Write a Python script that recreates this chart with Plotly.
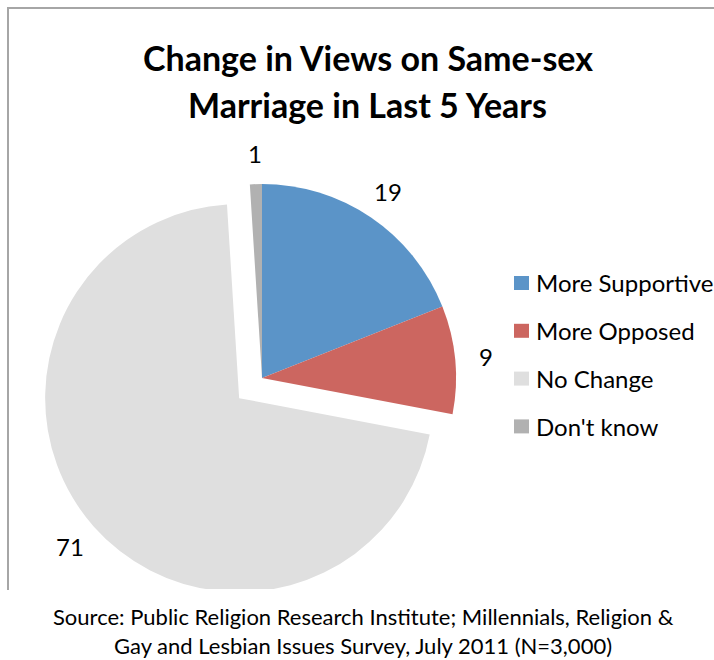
import math
import plotly.graph_objects as go

# Survey shares (percent)
categories = ["More Supportive", "More Opposed", "No Change", "Don't know"]
values = [19, 9, 71, 1]

title_lines = ["Change in Views on Same-sex", "Marriage in Last 5 Years"]
source_lines = [
    "Source: Public Religion Research Institute; Millennials, Religion &",
    "Gay and Lesbian Issues Survey, July 2011 (N=3,000)",
]

# Styling
colors = ["#5B94C8", "#CC6660", "#DFDFDF", "#B1B1B1"]
pulls = [0, 0, 0.157, 0]
FONT = "Lato"
W, H = 714, 660


def px(x):
    return x / W


def py(y):
    return 1 - y / H


# Pie placement (pixel centre and radius of the unpulled slices)
cx, cy, r = 262, 378, 194
half = r * (1 + max(pulls))

fig = go.Figure(
    go.Pie(
        labels=categories,
        values=values,
        marker=dict(colors=colors, line=dict(width=0)),
        pull=pulls,
        sort=False,
        direction="clockwise",
        rotation=0,
        textinfo="none",
        hoverinfo="label+value",
        showlegend=False,
        domain=dict(x=[px(cx - half), px(cx + half)],
                    y=[py(cy + half), py(cy - half)]),
    )
)

annotations = []
shapes = []

# Value labels placed just outside each slice, along its mid-angle
total = sum(values)
cum = 0
label_gap = 31
for v, p in zip(values, pulls):
    mid = (cum + v / 2) / total * 2 * math.pi
    cum += v
    dx, dy = math.sin(mid), -math.cos(mid)
    ox, oy = cx + p * r * dx, cy + p * r * dy
    lx, ly = ox + (r + label_gap) * dx, oy + (r + label_gap) * dy
    annotations.append(dict(
        x=px(lx), y=py(ly), xref="paper", yref="paper",
        text=str(v), showarrow=False,
        xanchor="center", yanchor="middle",
        font=dict(family=FONT, size=24, color="#000000"),
    ))

# Legend drawn as swatches + text
leg_x, leg_y0, leg_step = 514, 283, 47.8
for i, (name, col) in enumerate(zip(categories, colors)):
    yc = leg_y0 + i * leg_step
    shapes.append(dict(
        type="rect", xref="paper", yref="paper",
        x0=px(leg_x), x1=px(leg_x + 15), y0=py(yc + 7), y1=py(yc - 7),
        fillcolor=col, line=dict(width=0), layer="above",
    ))
    annotations.append(dict(
        x=px(leg_x + 20), y=py(yc), xref="paper", yref="paper",
        text=name, showarrow=False, xanchor="left", yanchor="middle",
        font=dict(family=FONT, size=24, color="#000000"),
    ))

# Title lines
for i, line in enumerate(title_lines):
    annotations.append(dict(
        x=px(368), y=py(57 + i * 47), xref="paper", yref="paper",
        text="<b>%s</b>" % line, showarrow=False,
        xanchor="center", yanchor="middle",
        font=dict(family=FONT, size=34, color="#000000"),
    ))

# White source box covering the bottom of the chart area
shapes.append(dict(
    type="rect", xref="paper", yref="paper",
    x0=0, x1=1, y0=0, y1=py(589),
    fillcolor="#FFFFFF", line=dict(width=0), layer="above",
))
for i, line in enumerate(source_lines):
    annotations.append(dict(
        x=px(363), y=py(616 + i * 29), xref="paper", yref="paper",
        text=line, showarrow=False,
        xanchor="center", yanchor="middle",
        font=dict(family=FONT, size=22, color="#000000"),
    ))

# Chart frame (top and left edges)
frame = dict(color="#A6A6A6", width=2)
shapes.append(dict(type="line", xref="paper", yref="paper",
                   x0=px(7), x1=1, y0=py(8), y1=py(8), line=frame, layer="above"))
shapes.append(dict(type="line", xref="paper", yref="paper",
                   x0=px(8), x1=px(8), y0=py(7), y1=py(590), line=frame, layer="above"))

fig.update_layout(
    width=W, height=H,
    margin=dict(l=0, r=0, t=0, b=0),
    paper_bgcolor="#FFFFFF",
    plot_bgcolor="#FFFFFF",
    annotations=annotations,
    shapes=shapes,
    font=dict(family=FONT),
)

fig.write_html("out.html")
